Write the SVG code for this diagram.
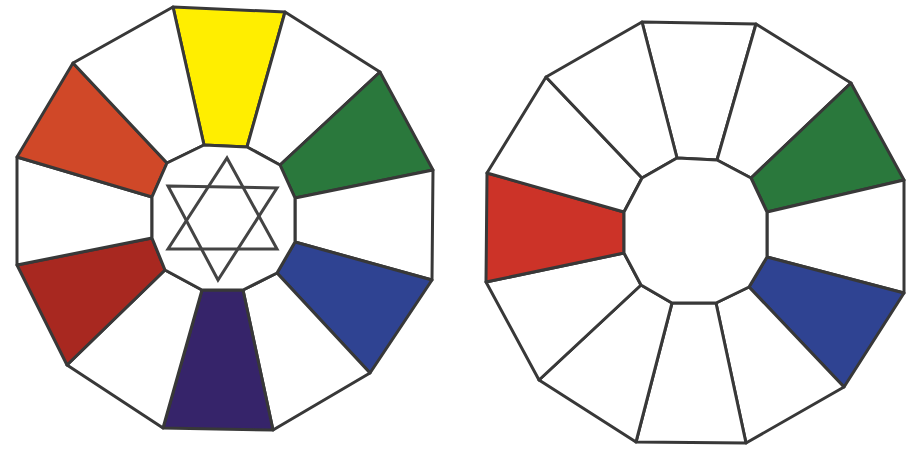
<svg xmlns="http://www.w3.org/2000/svg" width="909" height="450" viewBox="0 0 909 450">
<style>
.s{stroke:#383838;stroke-width:3;stroke-linejoin:round}
.w{fill:#ffffff}
.y{fill:#ffee00}
.g{fill:#2a783c}
.b{fill:#2f4392}
.p{fill:#36246a}
.r{fill:#a82820}
.o{fill:#d04828}
.r2{fill:#cc3328}
.star{fill:none;stroke:#444;stroke-width:3;stroke-linejoin:miter}
</style>
<rect width="909" height="450" fill="#ffffff"/>
<g id="wheel-left">
<g id="L-seg0"><polygon class="s y" points="173,7 285,12 247,147 204,145"/></g>
<g id="L-seg1"><polygon class="s w" points="285,12 380,72 280,165 247,147"/></g>
<g id="L-seg2"><polygon class="s g" points="380,72 433,170 295,198 280,165"/></g>
<g id="L-seg3"><polygon class="s w" points="433,170 432,280 295,242 295,198"/></g>
<g id="L-seg4"><polygon class="s b" points="432,280 370,373 277,273 295,242"/></g>
<g id="L-seg5"><polygon class="s w" points="370,373 273,430 243,290 277,273"/></g>
<g id="L-seg6"><polygon class="s p" points="273,430 163,428 202,290 243,290"/></g>
<g id="L-seg7"><polygon class="s w" points="163,428 67,365 165,270 202,290"/></g>
<g id="L-seg8"><polygon class="s r" points="67,365 17,265 152,238 165,270"/></g>
<g id="L-seg9"><polygon class="s w" points="17,265 17,157 152,197 152,238"/></g>
<g id="L-seg10"><polygon class="s o" points="17,157 73,63 167,163 152,197"/></g>
<g id="L-seg11"><polygon class="s w" points="73,63 173,7 204,145 167,163"/></g>
<g id="L-hub"><polygon class="s w" points="204,145 247,147 280,165 295,198 295,242 277,273 243,290 202,290 165,270 152,238 152,197 167,163"/></g>
<g id="L-star">
<polygon class="star" points="227,158 277,249 168,249"/>
<polygon class="star" points="168,186 277,188 218,280"/>
</g>
</g>
<g id="wheel-right">
<g id="R-seg0"><polygon class="s w" points="642,22 756,24 717,160 677,158"/></g>
<g id="R-seg1"><polygon class="s w" points="756,24 851,83 751,178 717,160"/></g>
<g id="R-seg2"><polygon class="s g" points="851,83 904,180 767,212 751,178"/></g>
<g id="R-seg3"><polygon class="s w" points="904,180 904,293 767,257 767,212"/></g>
<g id="R-seg4"><polygon class="s b" points="904,293 844,387 749,287 767,257"/></g>
<g id="R-seg5"><polygon class="s w" points="844,387 746,443 716,303 749,287"/></g>
<g id="R-seg6"><polygon class="s w" points="746,443 636,442 672,303 716,303"/></g>
<g id="R-seg7"><polygon class="s w" points="636,442 539,380 641,285 672,303"/></g>
<g id="R-seg8"><polygon class="s w" points="539,380 486,282 624,253 641,285"/></g>
<g id="R-seg9"><polygon class="s r2" points="486,282 487,173 624,212 624,253"/></g>
<g id="R-seg10"><polygon class="s w" points="487,173 546,77 642,178 624,212"/></g>
<g id="R-seg11"><polygon class="s w" points="546,77 642,22 677,158 642,178"/></g>
<g id="R-hub"><polygon class="s w" points="677,158 717,160 751,178 767,212 767,257 749,287 716,303 672,303 641,285 624,253 624,212 642,178"/></g>
</g>
</svg>
